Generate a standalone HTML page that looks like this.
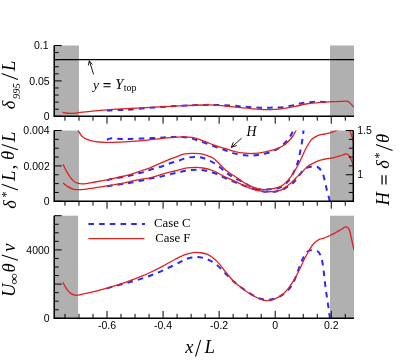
<!DOCTYPE html>
<html><head><meta charset="utf-8"><style>
html,body{margin:0;padding:0;background:#fff;}
body{width:404px;height:360px;overflow:hidden;font-family:"Liberation Sans",sans-serif;}
svg{display:block;will-change:transform;}
</style></head><body>
<svg width="404" height="360" viewBox="0 0 404 360">
<defs>
<clipPath id="c1"><rect x="54.2" y="45.5" width="299.8" height="70.8"/></clipPath>
<clipPath id="c2"><rect x="54.2" y="130.5" width="299.8" height="70.80000000000001"/></clipPath>
<clipPath id="c3"><rect x="54.2" y="215.7" width="299.8" height="102.60000000000002"/></clipPath>
</defs>
<rect x="54.2" y="45.5" width="24.799999999999997" height="70.8" fill="#b0b0b0"/>
<rect x="330.0" y="45.5" width="24.0" height="70.8" fill="#b0b0b0"/>
<rect x="54.2" y="130.5" width="24.799999999999997" height="70.80000000000001" fill="#b0b0b0"/>
<rect x="330.0" y="130.5" width="24.0" height="70.80000000000001" fill="#b0b0b0"/>
<rect x="54.2" y="215.7" width="23.89999999999999" height="102.60000000000002" fill="#b0b0b0"/>
<rect x="330.0" y="215.7" width="24.0" height="102.60000000000002" fill="#b0b0b0"/>
<path d="M106.90,110.60 C110.60,110.43 114.23,110.26 118.00,110.10 C121.92,109.93 125.29,109.91 130.00,109.60 C136.78,109.16 146.50,108.02 154.75,107.40 C163.00,106.78 171.25,106.32 179.50,105.90 C187.75,105.48 197.69,105.03 204.25,104.90 C208.57,104.81 211.12,104.84 215.00,104.90 C219.59,104.98 225.34,105.10 230.00,105.40 C234.09,105.66 237.71,106.18 241.50,106.50 C245.21,106.81 248.87,107.08 252.50,107.30 C256.04,107.51 259.54,107.75 263.00,107.80 C266.37,107.85 269.67,107.70 273.00,107.60 C276.33,107.50 279.55,107.61 283.00,107.20 C286.76,106.76 291.08,105.69 294.70,104.90 C297.85,104.21 300.45,103.30 303.50,102.80 C306.71,102.28 310.12,102.05 313.50,101.90 C316.95,101.74 321.44,101.86 324.00,101.90 C325.48,101.92 326.33,101.97 327.50,102.00" fill="none" stroke="#2828ff" stroke-width="2.0" stroke-dasharray="5.6,5.1" clip-path="url(#c1)"/>
<path d="M62.60,112.30 C63.73,112.53 64.79,112.82 66.00,113.00 C67.37,113.20 68.77,113.39 70.40,113.40 C72.44,113.42 74.48,113.16 77.30,112.90 C81.79,112.48 88.90,111.48 94.70,110.90 C100.47,110.32 106.17,109.81 112.00,109.40 C117.94,108.98 123.52,108.74 130.00,108.40 C137.59,108.00 146.50,107.62 154.75,107.20 C163.00,106.78 171.25,106.27 179.50,105.90 C187.75,105.53 197.69,105.09 204.25,105.00 C208.57,104.94 211.48,104.93 215.00,105.10 C218.40,105.27 221.27,105.65 225.00,106.00 C229.73,106.45 235.72,107.07 241.10,107.60 C246.49,108.13 252.20,108.85 257.30,109.20 C261.84,109.51 266.04,109.77 270.20,109.70 C274.09,109.64 278.01,109.33 281.50,108.90 C284.55,108.52 287.48,107.88 290.00,107.40 C292.03,107.02 293.37,106.74 295.50,106.30 C298.46,105.68 302.56,104.58 306.10,104.00 C309.59,103.42 313.19,103.12 316.60,102.80 C319.82,102.50 323.05,102.29 326.00,102.10 C328.61,101.93 330.93,101.82 333.40,101.70 C335.87,101.58 338.68,101.49 340.80,101.40 C342.40,101.33 343.81,101.20 345.00,101.20 C345.88,101.20 346.65,101.16 347.30,101.30 C347.80,101.41 348.20,101.55 348.60,101.80 C349.04,102.07 349.30,102.42 349.80,102.90 C350.70,103.76 352.66,105.76 353.50,106.60 C353.94,107.04 354.17,107.27 354.50,107.60" fill="none" stroke="#e0201c" stroke-width="1.3" clip-path="url(#c1)"/>
<path d="M106.90,139.80 C107.77,139.40 108.62,138.87 109.50,138.60 C110.32,138.35 111.04,138.22 112.00,138.20 C113.28,138.17 114.92,138.58 116.50,138.70 C118.24,138.83 120.00,138.86 122.00,138.90 C124.42,138.94 126.85,138.96 130.00,138.90 C134.55,138.82 141.14,138.53 146.70,138.30 C152.24,138.07 158.25,137.75 163.30,137.50 C167.54,137.29 171.25,136.92 175.00,136.90 C178.46,136.88 181.92,136.95 185.00,137.30 C187.69,137.60 190.02,138.06 192.50,138.70 C195.02,139.35 197.33,140.27 200.00,141.20 C203.10,142.27 206.66,143.62 210.00,144.80 C213.33,145.98 216.86,147.16 220.00,148.30 C222.82,149.32 225.41,150.39 228.00,151.30 C230.40,152.14 232.43,152.98 235.00,153.60 C238.01,154.33 241.84,154.87 245.00,155.20 C247.81,155.49 250.19,155.75 253.00,155.60 C256.16,155.43 259.69,154.71 263.00,154.00 C266.35,153.28 269.88,152.66 273.00,151.30 C276.11,149.95 279.55,147.55 281.70,145.90 C283.13,144.80 284.00,143.83 285.00,142.80 C285.91,141.86 286.71,140.95 287.50,140.00 C288.27,139.08 289.04,138.19 289.70,137.20 C290.37,136.19 290.95,135.11 291.50,134.00 C292.06,132.87 292.64,131.58 293.00,130.50 C293.30,129.61 293.40,128.83 293.60,128.00" fill="none" stroke="#2828ff" stroke-width="2.0" stroke-dasharray="5.6,5.1" clip-path="url(#c2)"/>
<path d="M106.90,180.20 C108.60,179.83 110.01,179.49 112.00,179.10 C114.77,178.55 118.86,177.92 122.00,177.30 C124.82,176.75 127.34,176.23 130.00,175.60 C132.67,174.97 135.42,174.15 138.00,173.50 C140.41,172.89 142.88,172.46 145.00,171.80 C146.83,171.23 147.99,170.57 150.00,169.90 C152.94,168.92 157.46,167.88 161.00,166.70 C164.38,165.57 167.66,164.07 170.80,163.00 C173.64,162.03 176.21,161.38 179.00,160.50 C181.93,159.58 184.96,158.18 188.00,157.60 C190.97,157.03 194.31,156.87 197.00,157.00 C199.21,157.11 200.96,157.41 203.00,158.00 C205.28,158.65 207.63,159.73 210.00,160.90 C212.62,162.19 215.51,163.70 218.00,165.50 C220.51,167.32 222.57,169.90 225.00,171.80 C227.37,173.65 229.62,175.19 232.40,176.80 C235.69,178.71 240.14,180.45 243.60,182.30 C246.69,183.95 249.14,186.06 252.20,187.30 C255.30,188.55 259.01,189.47 262.10,189.75 C264.75,189.99 267.20,189.45 269.60,189.30 C271.82,189.16 273.85,189.41 276.00,188.90 C278.38,188.33 281.25,187.02 283.20,185.80 C284.76,184.82 285.83,183.68 287.00,182.50 C288.15,181.34 289.21,180.14 290.15,178.80 C291.12,177.42 291.90,175.84 292.70,174.30 C293.51,172.74 294.29,171.13 295.00,169.50 C295.72,167.86 296.41,166.18 297.00,164.50 C297.58,162.85 298.03,161.32 298.50,159.50 C299.05,157.37 299.50,154.91 300.00,152.50 C300.53,149.92 301.11,147.35 301.60,144.50 C302.16,141.24 302.67,137.15 303.10,134.00 C303.45,131.43 303.70,129.33 304.00,127.00" fill="none" stroke="#2828ff" stroke-width="2.0" stroke-dasharray="5.6,5.1" clip-path="url(#c2)"/>
<path d="M106.90,186.20 C108.60,185.93 110.01,185.68 112.00,185.40 C114.78,185.00 118.86,184.56 122.00,184.10 C124.82,183.69 127.07,183.33 130.00,182.80 C133.60,182.15 138.41,181.16 142.00,180.40 C144.94,179.78 147.11,179.19 150.00,178.60 C153.37,177.92 157.43,177.37 161.00,176.60 C164.43,175.86 167.75,174.89 171.00,174.10 C174.08,173.36 177.08,172.63 180.00,172.00 C182.74,171.41 185.24,170.77 188.00,170.40 C190.90,170.02 194.30,169.80 197.00,169.80 C199.20,169.80 200.93,169.91 203.00,170.20 C205.25,170.52 207.61,171.04 210.00,171.70 C212.60,172.41 215.46,173.33 218.00,174.40 C220.45,175.44 222.07,176.66 225.00,178.00 C229.68,180.14 237.36,183.29 243.60,185.50 C249.73,187.68 257.18,190.27 262.10,191.20 C265.25,191.80 267.55,191.79 270.00,191.80 C272.14,191.81 273.98,191.74 276.00,191.40 C278.14,191.04 280.58,190.44 282.50,189.64 C284.19,188.94 285.49,187.95 287.00,187.06 C288.55,186.15 290.33,185.34 291.70,184.25 C292.98,183.23 293.93,182.05 295.00,180.80 C296.15,179.46 297.25,177.88 298.35,176.45 C299.42,175.05 300.44,173.60 301.50,172.30 C302.49,171.09 303.41,169.72 304.50,168.90 C305.43,168.20 306.44,167.86 307.50,167.50 C308.60,167.12 309.82,166.88 311.00,166.70 C312.19,166.52 313.47,166.33 314.60,166.40 C315.62,166.46 316.66,166.62 317.50,167.00 C318.27,167.35 318.94,167.94 319.50,168.50 C320.02,169.02 320.34,169.54 320.80,170.20 C321.39,171.07 322.17,172.09 322.70,173.30 C323.35,174.77 323.74,176.74 324.20,178.50 C324.67,180.30 325.08,182.16 325.50,184.00 C325.92,185.83 326.20,187.43 326.70,189.50 C327.36,192.20 328.69,196.30 329.20,198.80 C329.54,200.46 329.60,201.60 329.80,203.00" fill="none" stroke="#2828ff" stroke-width="2.0" stroke-dasharray="5.6,5.1" clip-path="url(#c2)"/>
<path d="M77.80,130.00 C79.17,132.07 80.32,134.64 81.90,136.20 C83.24,137.53 84.65,138.28 86.40,139.10 C88.51,140.08 91.01,140.86 93.80,141.40 C97.27,142.08 101.51,142.27 105.70,142.40 C110.38,142.55 115.59,142.30 120.60,142.10 C125.69,141.90 131.30,141.57 136.00,141.20 C139.98,140.89 143.33,140.48 147.00,140.10 C150.67,139.72 154.25,139.29 158.00,138.90 C161.91,138.49 166.00,138.03 170.00,137.70 C174.00,137.37 178.18,136.93 182.00,136.90 C185.48,136.87 188.88,136.90 192.00,137.40 C194.84,137.86 197.21,138.68 200.00,139.60 C203.17,140.65 206.66,142.23 210.00,143.50 C213.33,144.76 216.83,146.20 220.00,147.20 C222.79,148.08 225.43,148.54 228.00,149.30 C230.42,150.02 232.43,150.98 235.00,151.60 C238.01,152.33 241.84,152.89 245.00,153.20 C247.81,153.48 250.07,153.65 253.00,153.50 C256.60,153.31 261.20,152.52 265.00,151.80 C268.50,151.13 271.73,150.59 275.00,149.40 C278.41,148.16 282.06,146.57 285.00,144.40 C287.92,142.26 290.68,139.07 292.60,136.50 C294.12,134.46 295.11,132.17 296.00,130.50 C296.62,129.34 297.00,128.50 297.50,127.50" fill="none" stroke="#e0201c" stroke-width="1.3" clip-path="url(#c2)"/>
<path d="M63.00,164.30 C64.63,167.40 66.15,170.80 67.90,173.60 C69.47,176.11 71.22,178.78 72.90,180.40 C74.12,181.58 75.14,182.33 76.60,182.90 C78.33,183.57 80.35,183.80 82.75,183.80 C86.16,183.80 90.95,182.69 95.10,182.00 C99.36,181.29 104.05,180.41 108.00,179.60 C111.39,178.91 114.06,178.27 117.40,177.50 C121.24,176.62 125.66,175.76 129.75,174.60 C133.89,173.43 138.44,171.71 142.10,170.50 C145.03,169.53 147.10,169.03 150.00,167.90 C153.70,166.46 158.25,164.06 162.40,162.30 C166.50,160.56 170.85,158.86 174.75,157.40 C178.22,156.10 181.54,154.56 184.65,153.90 C187.27,153.34 189.58,153.34 192.10,153.30 C194.69,153.26 197.56,153.34 200.00,153.70 C202.15,154.02 203.98,154.55 206.00,155.20 C208.15,155.89 210.51,156.60 212.50,157.80 C214.52,159.02 216.09,160.74 218.00,162.50 C220.23,164.56 222.21,167.18 225.00,169.50 C228.44,172.37 233.24,175.31 237.40,178.05 C241.49,180.74 245.50,183.87 249.75,185.80 C253.75,187.61 258.17,189.05 262.10,189.50 C265.55,189.90 269.27,189.31 272.00,188.90 C273.96,188.61 275.35,188.22 277.00,187.70 C278.68,187.17 280.44,186.70 282.00,185.75 C283.69,184.73 285.20,183.20 286.70,181.66 C288.31,180.01 289.92,177.98 291.30,176.10 C292.60,174.32 293.73,172.45 294.80,170.70 C295.78,169.09 296.63,167.57 297.50,166.00 C298.36,164.44 299.22,162.89 300.00,161.30 C300.78,159.72 301.39,158.28 302.20,156.50 C303.21,154.28 304.46,151.22 305.60,149.00 C306.56,147.14 307.46,145.62 308.50,144.00 C309.53,142.39 310.34,140.68 311.80,139.30 C313.49,137.71 316.07,136.18 318.30,135.30 C320.35,134.49 322.51,134.45 324.60,134.00 C326.68,133.55 328.73,133.24 330.80,132.60 C332.99,131.93 335.43,130.96 337.40,130.00 C339.11,129.17 340.42,127.83 342.00,127.30 C343.46,126.82 345.21,126.30 346.50,126.80 C347.88,127.34 349.13,129.35 349.90,130.70 C350.56,131.86 350.70,133.10 351.10,134.30 C351.50,135.50 351.85,136.57 352.30,137.90 C352.86,139.56 353.57,141.63 354.20,143.50" fill="none" stroke="#e0201c" stroke-width="1.3" clip-path="url(#c2)"/>
<path d="M63.00,182.90 C64.63,184.13 66.21,185.55 67.90,186.60 C69.51,187.60 71.20,188.59 72.90,189.10 C74.50,189.58 75.84,189.67 77.80,189.70 C80.75,189.75 84.71,189.22 88.90,188.70 C94.42,188.02 102.75,186.56 108.00,185.70 C111.69,185.10 114.06,184.72 117.40,184.10 C121.24,183.38 125.63,182.43 129.75,181.60 C133.87,180.77 138.44,179.77 142.10,179.10 C145.02,178.56 147.09,178.47 150.00,177.80 C153.69,176.95 158.26,175.24 162.40,174.10 C166.51,172.97 170.63,172.03 174.75,171.00 C178.87,169.97 183.29,168.50 187.10,167.90 C190.28,167.40 193.21,167.25 196.00,167.30 C198.48,167.34 200.51,167.55 203.00,168.00 C205.94,168.53 209.80,169.54 212.50,170.50 C214.62,171.25 216.07,172.04 218.00,173.00 C220.21,174.10 222.31,175.47 225.00,176.80 C228.52,178.54 233.28,180.44 237.40,182.34 C241.53,184.24 245.56,186.70 249.75,188.20 C253.80,189.65 258.18,190.74 262.10,191.30 C265.56,191.80 269.26,191.81 272.00,191.70 C273.95,191.62 275.35,191.45 277.00,191.10 C278.68,190.75 280.48,190.31 282.00,189.58 C283.47,188.87 284.70,187.77 286.00,186.82 C287.30,185.88 288.54,184.96 289.80,183.90 C291.14,182.77 292.51,181.46 293.80,180.20 C295.07,178.96 296.18,177.70 297.50,176.40 C298.96,174.97 300.82,173.40 302.20,172.00 C303.37,170.82 304.22,169.64 305.30,168.60 C306.33,167.61 307.38,166.69 308.50,165.90 C309.59,165.13 310.55,164.61 311.90,163.90 C313.78,162.92 316.43,161.54 318.80,160.70 C321.14,159.87 323.62,159.39 326.00,158.90 C328.29,158.43 330.38,158.33 332.80,157.80 C335.63,157.18 339.40,155.98 341.90,155.25 C343.66,154.74 345.10,153.71 346.40,153.90 C347.52,154.06 348.46,154.81 349.30,155.80 C350.48,157.19 351.24,160.13 352.10,162.10 C352.86,163.83 353.50,165.37 354.20,167.00" fill="none" stroke="#e0201c" stroke-width="1.3" clip-path="url(#c2)"/>
<path d="M106.90,288.40 C110.60,287.37 114.22,286.33 118.00,285.30 C121.92,284.23 125.98,283.24 130.00,282.10 C134.11,280.94 138.29,279.76 142.40,278.40 C146.54,277.03 150.66,275.54 154.75,273.90 C158.89,272.24 163.00,270.42 167.10,268.50 C171.25,266.55 176.20,263.99 179.50,262.30 C181.71,261.17 183.02,260.20 185.00,259.40 C187.13,258.54 189.70,257.81 191.90,257.40 C193.85,257.03 195.38,256.73 197.50,256.90 C200.37,257.12 204.37,258.14 207.50,259.40 C210.59,260.65 213.42,262.29 216.20,264.40 C219.28,266.75 222.07,270.22 225.00,273.10 C227.90,275.95 230.59,278.93 233.70,281.60 C236.88,284.34 240.10,286.74 243.90,289.30 C248.33,292.28 254.12,296.54 258.80,298.20 C262.44,299.49 265.76,299.94 269.20,299.70 C272.69,299.46 276.31,298.47 279.60,296.70 C283.30,294.71 287.36,291.02 290.00,287.80 C292.28,285.02 293.53,282.08 295.00,278.90 C296.56,275.51 297.70,271.40 299.00,268.00 C300.16,264.98 301.15,262.08 302.40,259.50 C303.51,257.20 304.57,254.77 306.00,253.20 C307.18,251.91 308.55,250.82 310.00,250.40 C311.39,249.99 313.06,250.34 314.50,250.60 C315.89,250.85 317.45,250.99 318.50,251.90 C319.72,252.96 320.32,255.13 321.00,257.00 C321.76,259.11 322.15,260.95 322.70,264.00 C323.71,269.59 324.57,280.33 325.60,288.00 C326.55,295.08 327.80,302.70 328.60,308.40 C329.17,312.50 329.53,315.47 330.00,319.00" fill="none" stroke="#2828ff" stroke-width="2.0" stroke-dasharray="5.6,5.1" clip-path="url(#c3)"/>
<path d="M62.80,282.30 C64.17,284.63 65.39,287.33 66.90,289.30 C68.20,291.00 69.49,292.60 71.10,293.60 C72.64,294.56 74.47,295.18 76.30,295.30 C78.28,295.43 80.08,294.62 82.60,294.10 C86.41,293.31 92.16,292.10 96.90,290.90 C101.66,289.70 106.37,288.33 111.10,286.90 C115.87,285.46 120.45,284.03 125.40,282.30 C130.84,280.40 137.88,277.76 142.40,275.90 C145.46,274.64 147.17,273.84 150.00,272.50 C153.65,270.77 158.29,268.46 162.40,266.30 C166.54,264.13 170.83,261.51 174.75,259.50 C178.20,257.73 181.41,255.97 184.65,254.80 C187.58,253.74 190.58,252.92 193.30,252.60 C195.66,252.32 197.72,252.43 200.00,252.70 C202.44,252.99 204.95,253.22 207.50,254.40 C210.75,255.90 214.56,259.06 217.50,261.90 C220.38,264.69 222.28,268.02 225.00,271.25 C228.06,274.88 231.13,279.02 235.00,282.60 C239.30,286.58 244.77,290.76 249.90,293.80 C254.69,296.64 260.53,299.78 264.70,300.50 C267.52,300.99 269.50,300.65 272.10,299.90 C275.36,298.96 279.59,296.71 282.50,294.50 C285.12,292.50 286.98,290.10 289.00,287.50 C291.17,284.71 293.23,281.24 295.00,278.20 C296.62,275.42 297.88,272.89 299.30,270.00 C300.85,266.85 302.64,262.57 303.90,260.00 C304.71,258.35 305.21,257.46 306.00,256.00 C306.97,254.20 308.04,252.02 309.30,250.00 C310.68,247.79 312.23,245.14 314.00,243.30 C315.60,241.65 317.50,240.17 319.30,239.30 C320.84,238.56 322.51,238.60 324.00,238.10 C325.41,237.62 326.77,236.95 328.00,236.40 C329.08,235.92 329.88,235.54 331.00,235.00 C332.46,234.29 334.35,233.41 336.00,232.50 C337.68,231.58 339.55,230.37 341.00,229.50 C342.13,228.82 343.08,228.15 344.00,227.70 C344.72,227.34 345.37,226.96 346.00,226.90 C346.53,226.85 347.07,226.94 347.50,227.20 C347.98,227.49 348.33,228.07 348.70,228.70 C349.20,229.56 349.62,230.74 350.00,232.00 C350.48,233.58 350.73,235.40 351.20,237.50 C351.84,240.34 352.92,245.14 353.50,247.50 C353.82,248.80 354.03,249.50 354.30,250.50" fill="none" stroke="#e0201c" stroke-width="1.3" clip-path="url(#c3)"/>
<line x1="54.2" y1="116.3" x2="354.0" y2="116.3" stroke="#000" stroke-width="1.5" fill="none"/>
<line x1="54.2" y1="45.5" x2="54.2" y2="117.05" stroke="#000" stroke-width="1.5" fill="none"/>
<line x1="64.97" y1="116.3" x2="64.97" y2="120.7" stroke="#000" stroke-width="1" fill="none"/>
<line x1="78.99" y1="116.3" x2="78.99" y2="120.7" stroke="#000" stroke-width="1" fill="none"/>
<line x1="93.00" y1="116.3" x2="93.00" y2="120.7" stroke="#000" stroke-width="1" fill="none"/>
<line x1="107.02" y1="116.3" x2="107.02" y2="123.7" stroke="#000" stroke-width="1" fill="none"/>
<line x1="121.03" y1="116.3" x2="121.03" y2="120.7" stroke="#000" stroke-width="1" fill="none"/>
<line x1="135.05" y1="116.3" x2="135.05" y2="120.7" stroke="#000" stroke-width="1" fill="none"/>
<line x1="149.06" y1="116.3" x2="149.06" y2="120.7" stroke="#000" stroke-width="1" fill="none"/>
<line x1="163.08" y1="116.3" x2="163.08" y2="123.7" stroke="#000" stroke-width="1" fill="none"/>
<line x1="177.09" y1="116.3" x2="177.09" y2="120.7" stroke="#000" stroke-width="1" fill="none"/>
<line x1="191.11" y1="116.3" x2="191.11" y2="120.7" stroke="#000" stroke-width="1" fill="none"/>
<line x1="205.12" y1="116.3" x2="205.12" y2="120.7" stroke="#000" stroke-width="1" fill="none"/>
<line x1="219.14" y1="116.3" x2="219.14" y2="123.7" stroke="#000" stroke-width="1" fill="none"/>
<line x1="233.15" y1="116.3" x2="233.15" y2="120.7" stroke="#000" stroke-width="1" fill="none"/>
<line x1="247.17" y1="116.3" x2="247.17" y2="120.7" stroke="#000" stroke-width="1" fill="none"/>
<line x1="261.19" y1="116.3" x2="261.19" y2="120.7" stroke="#000" stroke-width="1" fill="none"/>
<line x1="275.20" y1="116.3" x2="275.20" y2="123.7" stroke="#000" stroke-width="1" fill="none"/>
<line x1="289.21" y1="116.3" x2="289.21" y2="120.7" stroke="#000" stroke-width="1" fill="none"/>
<line x1="303.23" y1="116.3" x2="303.23" y2="120.7" stroke="#000" stroke-width="1" fill="none"/>
<line x1="317.25" y1="116.3" x2="317.25" y2="120.7" stroke="#000" stroke-width="1" fill="none"/>
<line x1="331.26" y1="116.3" x2="331.26" y2="123.7" stroke="#000" stroke-width="1" fill="none"/>
<line x1="345.27" y1="116.3" x2="345.27" y2="120.7" stroke="#000" stroke-width="1" fill="none"/>
<line x1="54.2" y1="116.30" x2="61.7" y2="116.30" stroke="#000" stroke-width="1" fill="none"/>
<line x1="54.2" y1="109.22" x2="58.7" y2="109.22" stroke="#000" stroke-width="1" fill="none"/>
<line x1="54.2" y1="102.14" x2="58.7" y2="102.14" stroke="#000" stroke-width="1" fill="none"/>
<line x1="54.2" y1="95.06" x2="58.7" y2="95.06" stroke="#000" stroke-width="1" fill="none"/>
<line x1="54.2" y1="87.98" x2="58.7" y2="87.98" stroke="#000" stroke-width="1" fill="none"/>
<line x1="54.2" y1="80.90" x2="61.7" y2="80.90" stroke="#000" stroke-width="1" fill="none"/>
<line x1="54.2" y1="73.82" x2="58.7" y2="73.82" stroke="#000" stroke-width="1" fill="none"/>
<line x1="54.2" y1="66.74" x2="58.7" y2="66.74" stroke="#000" stroke-width="1" fill="none"/>
<line x1="54.2" y1="59.66" x2="58.7" y2="59.66" stroke="#000" stroke-width="1" fill="none"/>
<line x1="54.2" y1="52.58" x2="58.7" y2="52.58" stroke="#000" stroke-width="1" fill="none"/>
<line x1="54.2" y1="45.50" x2="61.7" y2="45.50" stroke="#000" stroke-width="1" fill="none"/>
<line x1="54.2" y1="201.3" x2="354.0" y2="201.3" stroke="#000" stroke-width="1.5" fill="none"/>
<line x1="54.2" y1="130.5" x2="54.2" y2="202.05" stroke="#000" stroke-width="1.5" fill="none"/>
<line x1="353.3" y1="130.5" x2="353.3" y2="202.05" stroke="#000" stroke-width="1.5" fill="none"/>
<line x1="64.97" y1="201.3" x2="64.97" y2="205.70000000000002" stroke="#000" stroke-width="1" fill="none"/>
<line x1="78.99" y1="201.3" x2="78.99" y2="205.70000000000002" stroke="#000" stroke-width="1" fill="none"/>
<line x1="93.00" y1="201.3" x2="93.00" y2="205.70000000000002" stroke="#000" stroke-width="1" fill="none"/>
<line x1="107.02" y1="201.3" x2="107.02" y2="208.70000000000002" stroke="#000" stroke-width="1" fill="none"/>
<line x1="121.03" y1="201.3" x2="121.03" y2="205.70000000000002" stroke="#000" stroke-width="1" fill="none"/>
<line x1="135.05" y1="201.3" x2="135.05" y2="205.70000000000002" stroke="#000" stroke-width="1" fill="none"/>
<line x1="149.06" y1="201.3" x2="149.06" y2="205.70000000000002" stroke="#000" stroke-width="1" fill="none"/>
<line x1="163.08" y1="201.3" x2="163.08" y2="208.70000000000002" stroke="#000" stroke-width="1" fill="none"/>
<line x1="177.09" y1="201.3" x2="177.09" y2="205.70000000000002" stroke="#000" stroke-width="1" fill="none"/>
<line x1="191.11" y1="201.3" x2="191.11" y2="205.70000000000002" stroke="#000" stroke-width="1" fill="none"/>
<line x1="205.12" y1="201.3" x2="205.12" y2="205.70000000000002" stroke="#000" stroke-width="1" fill="none"/>
<line x1="219.14" y1="201.3" x2="219.14" y2="208.70000000000002" stroke="#000" stroke-width="1" fill="none"/>
<line x1="233.15" y1="201.3" x2="233.15" y2="205.70000000000002" stroke="#000" stroke-width="1" fill="none"/>
<line x1="247.17" y1="201.3" x2="247.17" y2="205.70000000000002" stroke="#000" stroke-width="1" fill="none"/>
<line x1="261.19" y1="201.3" x2="261.19" y2="205.70000000000002" stroke="#000" stroke-width="1" fill="none"/>
<line x1="275.20" y1="201.3" x2="275.20" y2="208.70000000000002" stroke="#000" stroke-width="1" fill="none"/>
<line x1="289.21" y1="201.3" x2="289.21" y2="205.70000000000002" stroke="#000" stroke-width="1" fill="none"/>
<line x1="303.23" y1="201.3" x2="303.23" y2="205.70000000000002" stroke="#000" stroke-width="1" fill="none"/>
<line x1="317.25" y1="201.3" x2="317.25" y2="205.70000000000002" stroke="#000" stroke-width="1" fill="none"/>
<line x1="331.26" y1="201.3" x2="331.26" y2="208.70000000000002" stroke="#000" stroke-width="1" fill="none"/>
<line x1="345.27" y1="201.3" x2="345.27" y2="205.70000000000002" stroke="#000" stroke-width="1" fill="none"/>
<line x1="54.2" y1="201.30" x2="61.7" y2="201.30" stroke="#000" stroke-width="1" fill="none"/>
<line x1="54.2" y1="192.45" x2="58.7" y2="192.45" stroke="#000" stroke-width="1" fill="none"/>
<line x1="54.2" y1="183.60" x2="58.7" y2="183.60" stroke="#000" stroke-width="1" fill="none"/>
<line x1="54.2" y1="174.75" x2="58.7" y2="174.75" stroke="#000" stroke-width="1" fill="none"/>
<line x1="54.2" y1="165.90" x2="61.7" y2="165.90" stroke="#000" stroke-width="1" fill="none"/>
<line x1="54.2" y1="157.05" x2="58.7" y2="157.05" stroke="#000" stroke-width="1" fill="none"/>
<line x1="54.2" y1="148.20" x2="58.7" y2="148.20" stroke="#000" stroke-width="1" fill="none"/>
<line x1="54.2" y1="139.35" x2="58.7" y2="139.35" stroke="#000" stroke-width="1" fill="none"/>
<line x1="54.2" y1="130.50" x2="61.7" y2="130.50" stroke="#000" stroke-width="1" fill="none"/>
<line x1="353.3" y1="201.30" x2="348.8" y2="201.30" stroke="#000" stroke-width="1" fill="none"/>
<line x1="353.3" y1="192.45" x2="348.8" y2="192.45" stroke="#000" stroke-width="1" fill="none"/>
<line x1="353.3" y1="183.60" x2="348.8" y2="183.60" stroke="#000" stroke-width="1" fill="none"/>
<line x1="353.3" y1="174.75" x2="345.8" y2="174.75" stroke="#000" stroke-width="1" fill="none"/>
<line x1="353.3" y1="165.90" x2="348.8" y2="165.90" stroke="#000" stroke-width="1" fill="none"/>
<line x1="353.3" y1="157.05" x2="348.8" y2="157.05" stroke="#000" stroke-width="1" fill="none"/>
<line x1="353.3" y1="148.20" x2="348.8" y2="148.20" stroke="#000" stroke-width="1" fill="none"/>
<line x1="353.3" y1="139.35" x2="348.8" y2="139.35" stroke="#000" stroke-width="1" fill="none"/>
<line x1="353.3" y1="130.50" x2="345.8" y2="130.50" stroke="#000" stroke-width="1" fill="none"/>
<line x1="54.2" y1="318.3" x2="354.0" y2="318.3" stroke="#000" stroke-width="1.5" fill="none"/>
<line x1="54.2" y1="215.7" x2="54.2" y2="319.05" stroke="#000" stroke-width="1.5" fill="none"/>
<line x1="64.97" y1="318.3" x2="64.97" y2="313.90000000000003" stroke="#000" stroke-width="1" fill="none"/>
<line x1="78.99" y1="318.3" x2="78.99" y2="313.90000000000003" stroke="#000" stroke-width="1" fill="none"/>
<line x1="93.00" y1="318.3" x2="93.00" y2="313.90000000000003" stroke="#000" stroke-width="1" fill="none"/>
<line x1="107.02" y1="318.3" x2="107.02" y2="310.90000000000003" stroke="#000" stroke-width="1" fill="none"/>
<line x1="121.03" y1="318.3" x2="121.03" y2="313.90000000000003" stroke="#000" stroke-width="1" fill="none"/>
<line x1="135.05" y1="318.3" x2="135.05" y2="313.90000000000003" stroke="#000" stroke-width="1" fill="none"/>
<line x1="149.06" y1="318.3" x2="149.06" y2="313.90000000000003" stroke="#000" stroke-width="1" fill="none"/>
<line x1="163.08" y1="318.3" x2="163.08" y2="310.90000000000003" stroke="#000" stroke-width="1" fill="none"/>
<line x1="177.09" y1="318.3" x2="177.09" y2="313.90000000000003" stroke="#000" stroke-width="1" fill="none"/>
<line x1="191.11" y1="318.3" x2="191.11" y2="313.90000000000003" stroke="#000" stroke-width="1" fill="none"/>
<line x1="205.12" y1="318.3" x2="205.12" y2="313.90000000000003" stroke="#000" stroke-width="1" fill="none"/>
<line x1="219.14" y1="318.3" x2="219.14" y2="310.90000000000003" stroke="#000" stroke-width="1" fill="none"/>
<line x1="233.15" y1="318.3" x2="233.15" y2="313.90000000000003" stroke="#000" stroke-width="1" fill="none"/>
<line x1="247.17" y1="318.3" x2="247.17" y2="313.90000000000003" stroke="#000" stroke-width="1" fill="none"/>
<line x1="261.19" y1="318.3" x2="261.19" y2="313.90000000000003" stroke="#000" stroke-width="1" fill="none"/>
<line x1="275.20" y1="318.3" x2="275.20" y2="310.90000000000003" stroke="#000" stroke-width="1" fill="none"/>
<line x1="289.21" y1="318.3" x2="289.21" y2="313.90000000000003" stroke="#000" stroke-width="1" fill="none"/>
<line x1="303.23" y1="318.3" x2="303.23" y2="313.90000000000003" stroke="#000" stroke-width="1" fill="none"/>
<line x1="317.25" y1="318.3" x2="317.25" y2="313.90000000000003" stroke="#000" stroke-width="1" fill="none"/>
<line x1="331.26" y1="318.3" x2="331.26" y2="310.90000000000003" stroke="#000" stroke-width="1" fill="none"/>
<line x1="345.27" y1="318.3" x2="345.27" y2="313.90000000000003" stroke="#000" stroke-width="1" fill="none"/>
<line x1="54.2" y1="318.30" x2="61.7" y2="318.30" stroke="#000" stroke-width="1" fill="none"/>
<line x1="54.2" y1="309.75" x2="58.7" y2="309.75" stroke="#000" stroke-width="1" fill="none"/>
<line x1="54.2" y1="301.20" x2="58.7" y2="301.20" stroke="#000" stroke-width="1" fill="none"/>
<line x1="54.2" y1="292.65" x2="58.7" y2="292.65" stroke="#000" stroke-width="1" fill="none"/>
<line x1="54.2" y1="284.10" x2="61.7" y2="284.10" stroke="#000" stroke-width="1" fill="none"/>
<line x1="54.2" y1="275.55" x2="58.7" y2="275.55" stroke="#000" stroke-width="1" fill="none"/>
<line x1="54.2" y1="267.00" x2="58.7" y2="267.00" stroke="#000" stroke-width="1" fill="none"/>
<line x1="54.2" y1="258.45" x2="58.7" y2="258.45" stroke="#000" stroke-width="1" fill="none"/>
<line x1="54.2" y1="249.90" x2="61.7" y2="249.90" stroke="#000" stroke-width="1" fill="none"/>
<line x1="54.2" y1="241.35" x2="58.7" y2="241.35" stroke="#000" stroke-width="1" fill="none"/>
<line x1="54.2" y1="232.80" x2="58.7" y2="232.80" stroke="#000" stroke-width="1" fill="none"/>
<line x1="54.2" y1="224.25" x2="58.7" y2="224.25" stroke="#000" stroke-width="1" fill="none"/>
<line x1="54.2" y1="215.70" x2="61.7" y2="215.70" stroke="#000" stroke-width="1" fill="none"/>
<line x1="54.2" y1="59.6" x2="354.0" y2="59.6" stroke="#000" stroke-width="1.3"/>
<text x="48.6" y="48.85" font-family="Liberation Sans, sans-serif" font-size="10.5" text-anchor="end">0.1</text>
<text x="49.6" y="84.85" font-family="Liberation Sans, sans-serif" font-size="10.5" text-anchor="end">0.05</text>
<text x="49.7" y="119.7" font-family="Liberation Sans, sans-serif" font-size="10.5" text-anchor="end">0</text>
<text x="49.6" y="133.6" font-family="Liberation Sans, sans-serif" font-size="10.5" text-anchor="end">0.004</text>
<text x="49.8" y="169.6" font-family="Liberation Sans, sans-serif" font-size="10.5" text-anchor="end">0.002</text>
<text x="49.7" y="204.7" font-family="Liberation Sans, sans-serif" font-size="10.5" text-anchor="end">0</text>
<text x="49.7" y="253.75" font-family="Liberation Sans, sans-serif" font-size="10.5" text-anchor="end">4000</text>
<text x="49.7" y="321.8" font-family="Liberation Sans, sans-serif" font-size="10.5" text-anchor="end">0</text>
<text x="357.2" y="134.4" font-family="Liberation Sans, sans-serif" font-size="10.5" text-anchor="start">1.5</text>
<text x="357.2" y="178.0" font-family="Liberation Sans, sans-serif" font-size="10.5" text-anchor="start">1</text>
<text x="107.01999999999998" y="328.8" font-family="Liberation Sans, sans-serif" font-size="10.5" text-anchor="middle">-0.6</text>
<text x="163.07999999999998" y="328.8" font-family="Liberation Sans, sans-serif" font-size="10.5" text-anchor="middle">-0.4</text>
<text x="219.14" y="328.8" font-family="Liberation Sans, sans-serif" font-size="10.5" text-anchor="middle">-0.2</text>
<text x="275.2" y="328.8" font-family="Liberation Sans, sans-serif" font-size="10.5" text-anchor="middle">0</text>
<text x="331.26" y="328.8" font-family="Liberation Sans, sans-serif" font-size="10.5" text-anchor="middle">0.2</text>
<line x1="88.4" y1="223.9" x2="145" y2="223.9" stroke="#2828ff" stroke-width="2" stroke-dasharray="5.6,5.1"/>
<line x1="88.4" y1="238.7" x2="144.5" y2="238.7" stroke="#e0201c" stroke-width="1.3"/>
<text x="154.0" y="227.0" font-family="Liberation Serif, serif" font-size="12.8">Case C</text>
<text x="155.2" y="241.8" font-family="Liberation Serif, serif" font-size="12.8">Case F</text>
<text transform="translate(15.00,108.80) rotate(-90)" x="-0.54" y="0" font-family="Liberation Serif, serif" font-size="18.5" font-style="italic">δ</text>
<text transform="translate(19.80,98.60) rotate(-90)" x="-0.31" y="0" font-family="Liberation Serif, serif" font-size="10.5" font-style="italic">995</text>
<line x1="17.9" y1="79.4" x2="1.7" y2="73.6" stroke="#000" stroke-width="1.05"/>
<text transform="translate(14.70,71.30) rotate(-90)" x="0.22" y="0" font-family="Liberation Serif, serif" font-size="18.5" font-style="italic">L</text>
<text transform="translate(16.00,208.10) rotate(-90)" x="-0.54" y="0" font-family="Liberation Serif, serif" font-size="18.5" font-style="italic">δ</text>
<text transform="translate(9.90,196.80) rotate(-90)" x="-0.59" y="0" font-family="Liberation Serif, serif" font-size="12">*</text>
<line x1="17.9" y1="190.0" x2="1.8" y2="184.2" stroke="#000" stroke-width="1.05"/>
<text transform="translate(14.70,181.30) rotate(-90)" x="0.22" y="0" font-family="Liberation Serif, serif" font-size="18.5" font-style="italic">L</text>
<text transform="translate(15.00,168.60) rotate(-90)" x="-0.70" y="0" font-family="Liberation Serif, serif" font-size="18.5">,</text>
<text transform="translate(14.20,159.00) rotate(-90)" x="-0.90" y="0" font-family="Liberation Serif, serif" font-size="18.5" font-style="italic">θ</text>
<line x1="17.9" y1="149.7" x2="1.7" y2="144.5" stroke="#000" stroke-width="1.05"/>
<text transform="translate(14.70,142.30) rotate(-90)" x="0.22" y="0" font-family="Liberation Serif, serif" font-size="18.5" font-style="italic">L</text>
<text transform="translate(14.70,295.40) rotate(-90)" x="-1.70" y="0" font-family="Liberation Serif, serif" font-size="18.5" font-style="italic">U</text>
<text transform="translate(18.0,279.0) rotate(-90) scale(1.25,1)" x="-4.63" y="0" font-family="Liberation Serif, serif" font-size="13">∞</text>
<text transform="translate(14.70,271.50) rotate(-90)" x="-0.90" y="0" font-family="Liberation Serif, serif" font-size="18.5" font-style="italic">θ</text>
<line x1="17.9" y1="260.3" x2="1.7" y2="254.9" stroke="#000" stroke-width="1.05"/>
<text transform="translate(14.60,251.40) rotate(-90)" x="-0.25" y="0" font-family="Liberation Serif, serif" font-size="18.5" font-style="italic">ν</text>
<text transform="translate(388.50,205.70) rotate(-90)" x="0.20" y="0" font-family="Liberation Serif, serif" font-size="18.5" font-style="italic">H</text>
<path d="M382.05,175.2 V184.5 M385.95,175.2 V184.5" stroke="#000" stroke-width="1.25"/>
<text transform="translate(389.00,168.30) rotate(-90)" x="-0.54" y="0" font-family="Liberation Serif, serif" font-size="18.5" font-style="italic">δ</text>
<text transform="translate(383.00,157.90) rotate(-90)" x="-0.59" y="0" font-family="Liberation Serif, serif" font-size="12">*</text>
<line x1="392.5" y1="150.5" x2="376.0" y2="144.6" stroke="#000" stroke-width="1.05"/>
<text transform="translate(389.00,142.00) rotate(-90)" x="-0.90" y="0" font-family="Liberation Serif, serif" font-size="18.5" font-style="italic">θ</text>
<text x="185.23" y="353.00" font-family="Liberation Serif, serif" font-size="18.5" font-style="italic">x</text>
<line x1="195.5" y1="356.6" x2="200.7" y2="339.8" stroke="#000" stroke-width="1.05"/>
<text x="204.42" y="353.00" font-family="Liberation Serif, serif" font-size="19" font-style="italic">L</text>
<text x="92.93" y="89.10" font-family="Liberation Serif, serif" font-size="13.5" font-style="italic">y</text>
<path d="M103.5,83.6 H110.6 M103.5,86.7 H110.6" stroke="#000" stroke-width="1.05"/>
<text x="115.37" y="88.70" font-family="Liberation Serif, serif" font-size="14.5" font-style="italic">Y</text>
<text x="123.70" y="91.0" font-family="Liberation Serif, serif" font-size="10">top</text>
<path d="M93.6,74.4 L89.3,60.8 M88.3,65.5 L89.3,60.8 L92.4,64.6" stroke="#000" stroke-width="0.9" fill="none"/>
<text x="246.45" y="136.30" font-family="Liberation Serif, serif" font-size="13.8" font-style="italic">H</text>
<path d="M241.6,138.2 L231.3,147.4 M233.3,142.2 L231.3,147.4 L236.7,145.5" stroke="#000" stroke-width="0.9" fill="none"/>
</svg>
</body></html>
